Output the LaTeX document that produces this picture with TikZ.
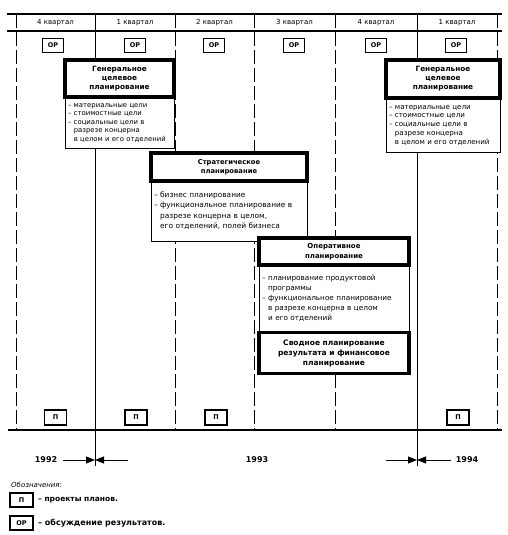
\documentclass[tikz,border=0pt]{standalone}
\usepackage{fontspec}
\setmainfont{DejaVu Sans}
\usetikzlibrary{arrows.meta}
\begin{document}
\begin{tikzpicture}[x=1pt,y=-1pt,
  solidline/.style={line width=1pt},
  qdash/.style={line width=1pt, dash pattern=on 14pt off 4pt},
  hdr/.style={font=\fontsize{7}{8}\selectfont},
  smallbox/.style={draw, line width=1.2pt, fill=white, minimum width=21pt, minimum height=14pt, inner sep=0pt, font=\bfseries\fontsize{6.5}{7}\selectfont},
  titlebox/.style={draw, line width=3.5pt, fill=white, align=center, inner sep=0pt, outer sep=0pt},
  listbox/.style={draw, line width=0.8pt, fill=white, inner xsep=3pt, inner ysep=0pt, outer sep=0pt, anchor=north west, align=left},
  yr/.style={font=\bfseries\fontsize{8}{10}\selectfont},
  arr/.style={line width=1pt, -{Triangle[length=9pt,width=7pt]}},
  legtext/.style={anchor=west, inner sep=0pt, font=\bfseries\fontsize{7.5}{9}\selectfont},
]
\useasboundingbox (0,0) rectangle (508,535);

% grid lines
\draw[line width=1.2pt] (7,14) -- (502,14);
\draw[line width=1.2pt] (7,31) -- (502,31);
\draw[line width=1.2pt] (8,430) -- (502,430);
\foreach \x in {16,175,254,335,497} \draw[qdash] (\x,14) -- (\x,430);
\foreach \x in {95,417} \draw[solidline] (\x,14) -- (\x,466);

% header
\node[hdr] (h1) at (55.5,22.5) {4 квартал};
\node[hdr] (h2) at (135,22.5) {1 квартал};
\node[hdr] (h3) at (214.5,22.5) {2 квартал};
\node[hdr] (h4) at (294.5,22.5) {3 квартал};
\node[hdr] (h5) at (376,22.5) {4 квартал};
\node[hdr] (h6) at (457,22.5) {1 квартал};

% OP boxes
\node[smallbox] (op1) at (53,45.5) {ОР};
\node[smallbox] (op2) at (135,45.5) {ОР};
\node[smallbox] (op3) at (214,45.5) {ОР};
\node[smallbox] (op4) at (294,45.5) {ОР};
\node[smallbox] (op5) at (376,45.5) {ОР};
\node[smallbox] (op6) at (456,45.5) {ОР};

% Box 1: general goal planning
\node[listbox, text width=103pt, minimum height=51pt, font=\fontsize{6.9}{8.6}\selectfont] (g1l) at (65,97)
 {\begin{tabular}{@{}l@{\ }l@{}}– & материальные цели\\ – & стоимостные цели\\ – & социальные цели в\\ & разрезе концерна\\ & в целом и его отделений\end{tabular}};
\node[titlebox, minimum width=109pt, minimum height=37pt, font=\bfseries\fontsize{7.3}{9}\selectfont] (g1t) at (119.5,78.5)
 {Генеральное\\целевое\\планирование};

% Box 4: general goal planning (next year)
\node[listbox, text width=108pt, minimum height=54pt, font=\fontsize{7.1}{8.8}\selectfont] (g2l) at (386,98)
 {\begin{tabular}{@{}l@{\ }l@{}}– & материальные цели\\ – & стоимостные цели\\ – & социальные цели в\\ & разрезе концерна\\ & в целом и его отделений\end{tabular}};
\node[titlebox, minimum width=114pt, minimum height=38pt, font=\bfseries\fontsize{7.3}{9}\selectfont] (g2t) at (443,79)
 {Генеральное\\целевое\\планирование};

% Box 2: strategic planning
\node[listbox, text width=150pt, minimum height=60pt, font=\fontsize{7.4}{10.5}\selectfont] (s1l) at (151,181)
 {\begin{tabular}{@{}l@{\ }l@{}}– & бизнес планирование\\ – & функциональное планирование в\\ & разрезе концерна в целом,\\ & его отделений, полей бизнеса\end{tabular}};
\node[titlebox, minimum width=156pt, minimum height=28pt, font=\bfseries\fontsize{6.8}{8.5}\selectfont] (s1t) at (229,167)
 {Стратегическое\\планирование};

% Box 3: operative planning
\node[listbox, text width=144pt, minimum height=67pt, font=\fontsize{7.3}{10.2}\selectfont] (o1l) at (259,265)
 {\begin{tabular}{@{}l@{\ }l@{}}– & планирование продуктовой\\ & программы\\ – & функциональное планирование\\ & в разрезе концерна в целом\\ & и его отделений\end{tabular}};
\node[titlebox, minimum width=150pt, minimum height=27pt, font=\bfseries\fontsize{7}{9.5}\selectfont] (o1t) at (334,251.5)
 {Оперативное\\планирование};
\node[titlebox, minimum width=150pt, minimum height=41pt, font=\bfseries\fontsize{7.5}{10}\selectfont] (o1s) at (334,353)
 {Сводное планирование\\результата и финансовое\\планирование};

% P boxes
\node[smallbox, minimum width=22pt, minimum height=15pt] (p1) at (55.5,417.5) {П};
\node[smallbox, minimum width=22pt, minimum height=15pt] (p2) at (136,417.5) {П};
\node[smallbox, minimum width=22pt, minimum height=15pt] (p3) at (216,417.5) {П};
\node[smallbox, minimum width=22pt, minimum height=15pt] (p6) at (458,417.5) {П};

% year boundaries
\coordinate (a1) at (63,460);
\coordinate (m1) at (95,460);
\coordinate (b1) at (128,460);
\coordinate (a2) at (386,460);
\coordinate (m2) at (417,460);
\coordinate (b2) at (451,460);
\draw[arr] (a1) -- (m1);
\draw[arr] (b1) -- (m1);
\draw[arr] (a2) -- (m2);
\draw[arr] (b2) -- (m2);
\node[yr] (y92) at (46,460) {1992};
\node[yr] (y93) at (257,459.5) {1993};
\node[yr] (y94) at (467,459.5) {1994};

% legend
\node[anchor=west, inner sep=0pt, font=\itshape\fontsize{7}{8}\selectfont] (leg) at (11,485) {Обозначения:};
\node[smallbox, minimum width=23pt, minimum height=14pt] (lp) at (21.5,500) {П};
\node[legtext] (lpt) at (38,500) {– проекты планов.};
\node[smallbox, minimum width=23pt, minimum height=14pt] (lo) at (21.5,523) {ОР};
\node[legtext, font=\bfseries\fontsize{8}{9}\selectfont] (lot) at (38,523) {– обсуждение результатов.};
\end{tikzpicture}
\end{document}
